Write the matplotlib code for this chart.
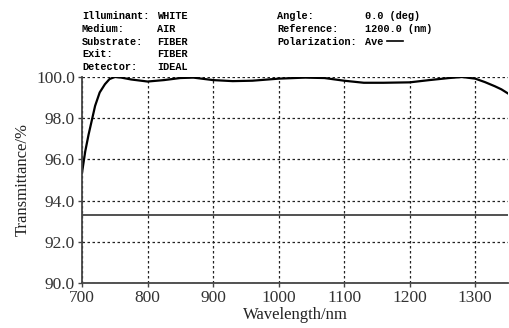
import matplotlib
matplotlib.use("Agg")
import matplotlib.pyplot as plt

# Transmittance curve
wavelength = [700, 705, 710, 715, 720, 727, 735, 742, 750, 760, 775, 800, 825,
              850, 870, 900, 930, 960, 1000, 1040, 1070, 1100, 1130, 1160,
              1200, 1230, 1260, 1280, 1300, 1315, 1330, 1340, 1350]
transmittance = [95.35, 96.4, 97.2, 97.9, 98.6, 99.25, 99.65, 99.9, 100.0, 99.97,
                 99.88, 99.78, 99.85, 99.95, 99.97, 99.85, 99.8, 99.82, 99.92,
                 99.97, 99.95, 99.82, 99.72, 99.72, 99.74, 99.85, 99.95, 100.0,
                 99.92, 99.75, 99.55, 99.4, 99.2]
reference_level = 93.3

x_ticks = [700, 800, 900, 1000, 1100, 1200, 1300]
y_ticks = [90.0, 92.0, 94.0, 96.0, 98.0, 100.0]

info_left = [("Illuminant:", "WHITE"), ("Medium:", "AIR"), ("Substrate:", "FIBER"),
             ("Exit:", "FIBER"), ("Detector:", "IDEAL")]
info_right = [("Angle:", "0.0 (deg)"), ("Reference:", "1200.0 (nm)"),
              ("Polarization:", "Ave")]

fig = plt.figure(figsize=(5.09, 3.28), dpi=100)
ax = fig.add_axes([82 / 509, 45 / 328, 426 / 509, 206 / 328])

ax.plot(wavelength, transmittance, color="black", lw=1.6)
ax.axhline(reference_level, color="#333333", lw=1.2)

ax.set_xlim(700, 1350)
ax.set_ylim(90, 100)
ax.set_xticks(x_ticks)
ax.set_yticks(y_ticks)
ax.set_yticklabels([f"{v:.1f}" for v in y_ticks])
ax.grid(True, color="#222222", linestyle=(0, (2, 2)), lw=0.9)

for s in ["top", "right"]:
    ax.spines[s].set_visible(False)
for s in ["left", "bottom"]:
    ax.spines[s].set_color("#444444")
    ax.spines[s].set_linewidth(1.3)

serif = "Liberation Serif"
ax.tick_params(length=3, width=1, color="#444444", labelsize=12.5, pad=2)
for lab in ax.get_xticklabels() + ax.get_yticklabels():
    lab.set_fontfamily(serif)
    lab.set_color("#333333")

ax.set_xlabel("Wavelength/nm", fontsize=12, family=serif, color="#222222", labelpad=1)
ax.set_ylabel("Transmittance/%", fontsize=12, family=serif, color="#222222", labelpad=4)

# Header block in bold monospace
mono = dict(family="Liberation Mono", fontweight="bold", fontsize=7.4, color="black", va="center")
for i, (k, v) in enumerate(info_left):
    y = 1 - (16 + 12.8 * i) / 328
    fig.text(82 / 509, y, k, **mono)
    fig.text(157 / 509, y, v, **mono)
for i, (k, v) in enumerate(info_right):
    y = 1 - (16 + 12.8 * i) / 328
    fig.text(277 / 509, y, k, **mono)
    fig.text(365 / 509, y, v, **mono)
fig.add_artist(plt.Line2D([387 / 509, 403 / 509], [1 - 41 / 328, 1 - 41 / 328],
                          color="black", lw=1.2))

fig.savefig("out.png", dpi=100)
